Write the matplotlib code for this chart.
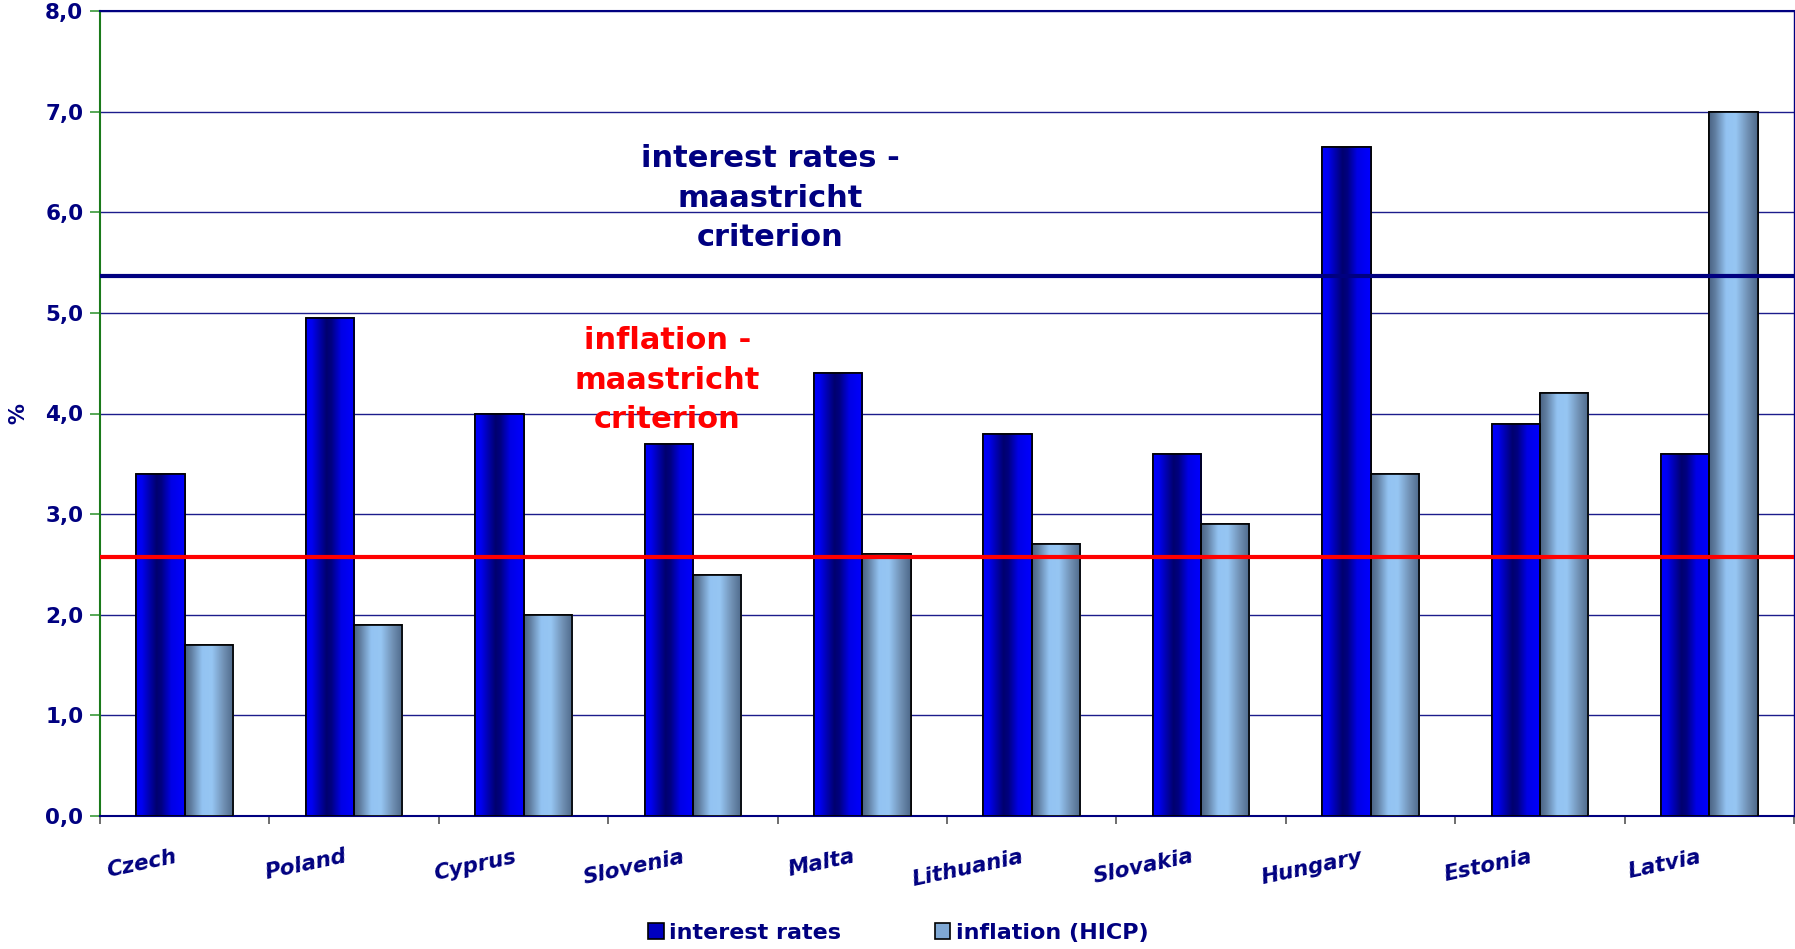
import numpy as np
import matplotlib.pyplot as plt
import matplotlib.transforms as mtransforms
from matplotlib.colors import LinearSegmentedColormap

countries = ["Czech", "Poland", "Cyprus", "Slovenia", "Malta",
             "Lithuania", "Slovakia", "Hungary", "Estonia", "Latvia"]
interest_rates = [3.4, 4.95, 4.0, 3.7, 4.4, 3.8, 3.6, 6.65, 3.9, 3.6]
inflation = [1.7, 1.9, 2.0, 2.4, 2.6, 2.7, 2.9, 3.4, 4.2, 7.0]
interest_criterion = 5.37
inflation_criterion = 2.57
yticks = [0, 1, 2, 3, 4, 5, 6, 7, 8]
ytick_labels = ["0,0", "1,0", "2,0", "3,0", "4,0", "5,0", "6,0", "7,0", "8,0"]

NAVY = "#000080"

# horizontal shading of the columns
cm_interest = LinearSegmentedColormap.from_list("interest", [
    (0.0, "#0000ff"), (0.12, "#0000f0"), (0.42, "#00006e"),
    (0.52, "#000080"), (0.72, "#0000e6"), (1.0, "#0000ff")])
cm_inflation = LinearSegmentedColormap.from_list("inflation", [
    (0.0, "#4a6484"), (0.12, "#5f7c9e"), (0.35, "#93c3f2"),
    (0.55, "#96c6f3"), (0.8, "#6f8fb2"), (1.0, "#4d6889")])
grad = np.linspace(0, 1, 256).reshape(1, -1)

fig = plt.figure(figsize=(17.95, 9.49), dpi=100)
ax = fig.add_axes([100 / 1795, 133 / 949, 1694 / 1795, 805 / 949])

x = np.arange(len(countries))
w = 0.285
b1 = ax.bar(x - w / 2, interest_rates, w, color="#0000c0", edgecolor="black",
            linewidth=1.2, zorder=3, label="interest rates")
b2 = ax.bar(x + w / 2, inflation, w, color="#7fa8d4", edgecolor="black",
            linewidth=1.2, zorder=3, label="inflation (HICP)")

for bars, cmap in ((b1, cm_interest), (b2, cm_inflation)):
    for p in bars:
        x0, y0 = p.get_x(), p.get_y()
        im = ax.imshow(grad, cmap=cmap, aspect="auto", zorder=3.5,
                       extent=(x0, x0 + p.get_width(), y0, y0 + p.get_height()))
        im.set_clip_path(p)
        # outline on top of the shading
        ax.add_patch(plt.Rectangle((x0, y0), p.get_width(), p.get_height(),
                                   fill=False, edgecolor="black", linewidth=1.2, zorder=4))

ax.axhline(interest_criterion, color=NAVY, linewidth=3.0, zorder=5)
ax.axhline(inflation_criterion, color="#ff0000", linewidth=3.0, zorder=5)

ax.text(3.455, 6.14, "interest rates -\nmaastricht\ncriterion", color=NAVY,
        fontsize=22, fontweight="bold", ha="center", va="center",
        linespacing=1.45, zorder=6)
ax.text(2.85, 4.33, "inflation -\nmaastricht\ncriterion", color="#ff0000",
        fontsize=22, fontweight="bold", ha="center", va="center",
        linespacing=1.45, zorder=6)

ax.set_xlim(-0.5, len(countries) - 0.5)
ax.set_ylim(0, 8)
ax.set_yticks(yticks, ytick_labels)
ax.yaxis.grid(True, color="#1c1c8c", linewidth=1.0, zorder=0)
ax.set_axisbelow(True)

ax.set_xticks(np.arange(len(countries) + 1) - 0.5, minor=True)
ax.set_xticks(x, countries)
ax.tick_params(axis="x", which="major", length=0, pad=22)
ax.tick_params(axis="x", which="minor", length=6, width=1.2, color="#555555",
               direction="out")
ax.tick_params(axis="y", length=7, width=1.2, color="#3a9a3a", pad=5,
               labelsize=15.5, labelcolor=NAVY)
for lab in ax.get_yticklabels():
    lab.set_fontweight("bold")

shift = mtransforms.ScaledTranslation(-10 / 100, 0, fig.dpi_scale_trans)
for lab in ax.get_xticklabels():
    lab.set_rotation(12)
    lab.set_rotation_mode("anchor")
    lab.set_ha("right")
    lab.set_va("top")
    lab.set_fontsize(15.5)
    lab.set_fontweight("bold")
    lab.set_fontstyle("italic")
    lab.set_color(NAVY)
    lab.set_transform(lab.get_transform() + shift)

ax.set_ylabel("%", color=NAVY, fontsize=15, fontweight="bold", labelpad=12)

ax.spines["left"].set_color("#1a7a1a")
ax.spines["left"].set_linewidth(1.5)
ax.spines["bottom"].set_color(NAVY)
ax.spines["bottom"].set_linewidth(1.5)
ax.spines["top"].set_color(NAVY)
ax.spines["top"].set_linewidth(1.5)
ax.spines["right"].set_color(NAVY)
ax.spines["right"].set_linewidth(1.0)

leg = fig.legend(handles=[b1, b2], loc="center", bbox_to_anchor=(0.5005, 1 - 933 / 949),
                 ncol=2, frameon=False, fontsize=16, handlelength=0.7,
                 handleheight=0.7, handletextpad=0.25, columnspacing=4.2)
for t in leg.get_texts():
    t.set_color(NAVY)
    t.set_fontweight("bold")

fig.savefig("out.png", dpi=100)
